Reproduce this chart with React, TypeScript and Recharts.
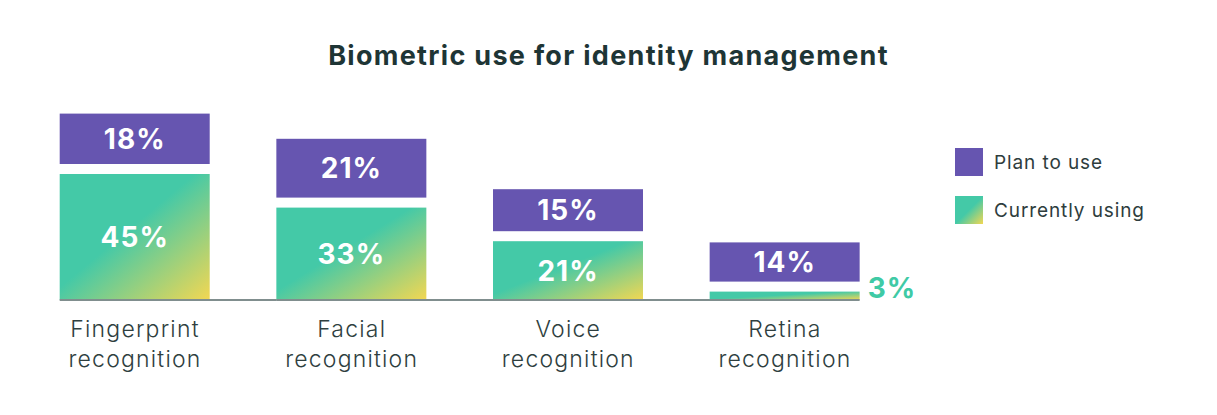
import { BarChart, Bar, XAxis, YAxis, LabelList } from 'recharts';

const categories = ['Fingerprint recognition', 'Facial recognition', 'Voice recognition', 'Retina recognition'];
const currentlyUsing = [45, 33, 21, 3];
const planToUse = [18, 21, 15, 14];
const legendLabels = ['Plan to use', 'Currently using'];

const data = categories.map((name, i) => ({
  name,
  current: currentlyUsing[i],
  plan: planToUse[i],
}));

const PURPLE = '#6655b0';
const TEAL = '#44c9a7';
const YELLOW = '#f3d752';
const GAP = 10;
const FONT = 'Inter, "Noto Sans", sans-serif';

function CurrentShape(props: any) {
  const { x, y, width, height, index } = props;
  const last = index === categories.length - 1;
  return (
    <g>
      <rect x={x} y={y} width={width} height={height} fill="url(#currentGrad)" />
      <line
        x1={x}
        x2={last ? x + width : x + width + 67}
        y1={y + height}
        y2={y + height}
        stroke="#808e8e"
        strokeWidth={2}
      />
    </g>
  );
}

function PlanShape(props: any) {
  const { x, y, width, height } = props;
  return <rect x={x} y={y - GAP} width={width} height={height} fill={PURPLE} />;
}

function CurrentLabel(props: any) {
  const { x, y, width, height, value } = props;
  if (height < 30) {
    return (
      <text
        x={x + width + 8}
        y={y + height - 2}
        fill="#3fcaa5"
        fontSize={28}
        fontWeight={700}
        fontFamily={FONT}
        letterSpacing={1}
      >
        {value}%
      </text>
    );
  }
  return (
    <text
      x={x + width / 2}
      y={y + height / 2}
      fill="#fff"
      fontSize={28}
      fontWeight={700}
      fontFamily={FONT}
      letterSpacing={1}
      textAnchor="middle"
      dominantBaseline="central"
    >
      {value}%
    </text>
  );
}

function PlanLabel(props: any) {
  const { x, y, width, height, value } = props;
  return (
    <text
      x={x + width / 2}
      y={y - GAP + height / 2}
      fill="#fff"
      fontSize={28}
      fontWeight={700}
      fontFamily={FONT}
      letterSpacing={1}
      textAnchor="middle"
      dominantBaseline="central"
    >
      {value}%
    </text>
  );
}

function CategoryTick(props: any) {
  const { x, y, payload } = props;
  const words = String(payload.value).split(' ');
  return (
    <text
      x={x}
      y={y}
      fill="#2f3f3f"
      fontSize={23}
      fontWeight={300}
      fontFamily={FONT}
      letterSpacing={1.2}
      textAnchor="middle"
    >
      <tspan x={x} dy={29}>{words[0]}</tspan>
      <tspan x={x} dy={30}>{words[1]}</tspan>
    </text>
  );
}

function ChartLegend() {
  const fills = [PURPLE, 'url(#legendGrad)'];
  return (
    <svg width={220} height={90} style={{ position: 'absolute', top: 148, left: 955 }}>
      <defs>
        <linearGradient id="legendGrad" x1="0" y1="0" x2="1" y2="1">
          <stop offset="0%" stopColor={TEAL} />
          <stop offset="50%" stopColor={TEAL} />
          <stop offset="100%" stopColor={YELLOW} />
        </linearGradient>
      </defs>
      {legendLabels.map((label, i) => (
        <g key={label}>
          <rect x={0} y={i * 48} width={28} height={28} fill={fills[i]} />
          <text x={39} y={i * 48 + 21} fill="#2e3d3d" fontSize={19} fontFamily={FONT} letterSpacing={0.9}>
            {label}
          </text>
        </g>
      ))}
    </svg>
  );
}

export default function App() {
  return (
    <div style={{ margin: -8, width: 1217, height: 415, background: '#fff', position: 'relative', fontFamily: FONT }}>
      <div
        style={{
          position: 'absolute',
          top: 38,
          left: 0,
          width: 1217,
          textAlign: 'center',
          fontSize: 27,
          fontWeight: 700,
          color: '#1e3535',
          fontFamily: FONT,
          letterSpacing: 1.3,
          lineHeight: '36px',
        }}
      >
        Biometric use for identity management
      </div>
      <BarChart
        width={1217}
        height={415}
        data={data}
        margin={{ top: 104, right: 323.7, left: 26.7, bottom: 0 }}
        barSize={150}
        style={{ position: 'absolute', top: 0, left: 0 }}
      >
        <defs>
          <linearGradient id="currentGrad" x1="0" y1="0" x2="1" y2="1">
            <stop offset="0%" stopColor={TEAL} />
            <stop offset="45%" stopColor={TEAL} />
            <stop offset="100%" stopColor={YELLOW} />
          </linearGradient>
        </defs>
        <XAxis
          dataKey="name"
          axisLine={false}
          tickLine={false}
          height={115}
          tick={<CategoryTick />}
          interval={0}
        />
        <YAxis hide domain={[0, 70]} />
        <Bar dataKey="current" stackId="a" shape={<CurrentShape />} isAnimationActive={false}>
          <LabelList dataKey="current" content={<CurrentLabel />} />
        </Bar>
        <Bar dataKey="plan" stackId="a" shape={<PlanShape />} isAnimationActive={false}>
          <LabelList dataKey="plan" content={<PlanLabel />} />
        </Bar>
      </BarChart>
      <ChartLegend />
    </div>
  );
}
